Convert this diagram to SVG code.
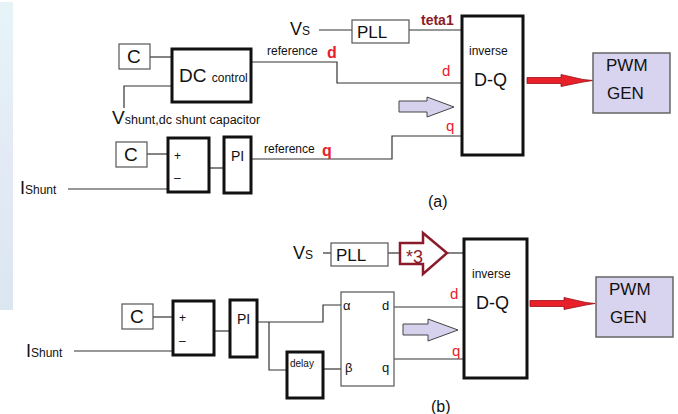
<svg xmlns="http://www.w3.org/2000/svg" width="678" height="414" viewBox="0 0 678 414">
<defs>
<linearGradient id="bg" x1="0" y1="0" x2="0" y2="1">
<stop offset="0" stop-color="#e6f4f8"/>
<stop offset="0.5" stop-color="#e3eaf5"/>
<stop offset="1" stop-color="#dbe6f1"/>
</linearGradient>
</defs>
<style>
text{font-family:"Liberation Sans",Arial,sans-serif;fill:#111}
.thin{fill:#fff;stroke:#555;stroke-width:1.2}
.thick{fill:#fff;stroke:#111;stroke-width:3}
.w{fill:none;stroke:#333;stroke-width:1.2}
.red{fill:#e8202a}
.dred{fill:#8b1a2a}
.pwm{fill:#d8d3ee;stroke:#666;stroke-width:1.5}
.lav{fill:#d6d2ee;stroke:#444;stroke-width:1}
.rarr{fill:#e8202a;stroke:#9a1018;stroke-width:0.8}
</style>
<rect x="0" y="0" width="678" height="414" fill="#fff"/>
<rect x="0" y="2" width="13" height="308" fill="url(#bg)"/>

<g id="connectors">
<polyline class="w" points="150,57 172,57"/>
<polyline class="w" points="172,86 124,86 124,108"/>
<polyline class="w" points="251,62 337,62 337,83 462,83"/>
<polyline class="w" points="319,30 352,30"/>
<polyline class="w" points="409,30 462,30"/>
<polyline class="w" points="147,154 168,154"/>
<polyline class="w" points="68,189 168,189"/>
<polyline class="w" points="209,168 224,168"/>
<polyline class="w" points="251,159 392,159 392,136 462,136"/>
<path class="rarr" d="M527,77.5 L561,77.5 L561,74.5 L583,79.5 L593,80.5 L583,82 L561,86.5 L561,83.5 L527,83.5 Z"/>
<polyline class="w" points="323,253 331,253"/>
<polyline class="w" points="388,253 400,253"/>
<polyline class="w" points="448,253 464,253"/>
<polyline class="w" points="153,317 173,317"/>
<polyline class="w" points="74,351 173,351"/>
<polyline class="w" points="214,331 230,331"/>
<polyline class="w" points="257,322 323,322 323,305 341,305"/>
<polyline class="w" points="269,322 269,370 287,370"/>
<polyline class="w" points="323,369 341,369"/>
<polyline class="w" points="394,307 464,307"/>
<polyline class="w" points="394,359 464,359"/>
<path class="rarr" d="M530,300.5 L564,300.5 L564,297.5 L586,302.5 L595,303.5 L586,305 L564,309.5 L564,306.5 L530,306.5 Z"/>
</g>

<!-- (a) -->
<g id="c1"><rect class="thin" x="119" y="44" width="31" height="25"/><text x="127" y="63" font-size="19">C</text></g>
<g id="dc"><rect class="thick" x="172" y="49" width="79" height="53"/><text x="179" y="82" font-size="19">DC <tspan font-size="12">control</tspan></text></g>
<g id="vshunt"><text x="112" y="124" font-size="19">V<tspan font-size="12.5">shunt,dc</tspan><tspan font-size="12.5"> shunt capacitor</tspan></text></g>
<g id="vs1"><text x="290" y="35" font-size="18">V<tspan font-size="12">S</tspan></text></g>
<g id="pll1"><rect class="thin" x="352" y="20" width="57" height="23"/><text x="357" y="38" font-size="17">PLL</text></g>
<text x="421" y="25" font-size="14" font-weight="bold" class="dred">teta1</text>
<text x="267" y="55" font-size="12">reference</text>
<text x="327" y="58" font-size="16" font-weight="bold" class="red">d</text>
<text x="442" y="76" font-size="15" class="red">d</text>
<text x="446" y="131" font-size="15" class="red">q</text>
<text x="264" y="153" font-size="12">reference</text>
<text x="322" y="156" font-size="16" font-weight="bold" class="red">q</text>
<g id="dq1"><rect class="thick" x="462" y="16" width="61" height="139"/><text x="469" y="55" font-size="12">inverse</text><text x="474" y="86" font-size="18">D-Q</text></g>
<path class="lav" d="M399,101 L427,101 L427,97 L454,107 L427,117 L427,112 L399,112 Z"/>
<g id="pwm1"><rect class="pwm" x="593" y="53" width="77" height="60"/><text x="606" y="71" font-size="17">PWM</text><text x="607" y="99" font-size="17">GEN</text></g>
<g id="c2"><rect class="thin" x="116" y="142" width="31" height="25"/><text x="124" y="161" font-size="19">C</text></g>
<g id="sum1"><rect class="thick" x="168" y="138" width="41" height="54"/><text x="174" y="160" font-size="12">+</text><text x="174" y="182" font-size="12">–</text></g>
<g id="ish1"><text x="20" y="194" font-size="18">I<tspan font-size="12">Shunt</tspan></text></g>
<g id="pi1"><rect class="thick" x="224" y="137" width="27" height="56"/><text x="231" y="161" font-size="14">PI</text></g>
<text x="428" y="207" font-size="16">(a)</text>

<!-- (b) -->
<g id="vs2"><text x="293" y="259" font-size="18">V<tspan font-size="12">S</tspan></text></g>
<g id="pll2"><rect class="thin" x="331" y="243" width="57" height="23"/><text x="336" y="261" font-size="17">PLL</text></g>
<g id="mul3"><path d="M400,243 L423,243 L423,233 L447,253 L423,274 L423,264 L400,264 Z" fill="#fff" stroke="#8b1a2a" stroke-width="2.5" stroke-linejoin="miter"/><text x="406" y="263" font-size="18" class="dred">*3</text></g>
<g id="dq2"><rect class="thick" x="464" y="239" width="63" height="139"/><text x="472" y="278" font-size="12">inverse</text><text x="476" y="309" font-size="18">D-Q</text></g>
<text x="450" y="299" font-size="15" class="red">d</text>
<text x="452" y="356" font-size="15" class="red">q</text>
<path class="lav" d="M403,324 L428,324 L428,319 L458,330 L428,341 L428,335 L403,335 Z"/>
<g id="pwm2"><rect class="pwm" x="596" y="277" width="77" height="60"/><text x="609" y="295" font-size="17">PWM</text><text x="610" y="323" font-size="17">GEN</text></g>
<g id="abdq"><rect class="thin" x="341" y="292" width="53" height="94"/><text x="343" y="310" font-size="13">α</text><text x="382" y="310" font-size="13">d</text><text x="345" y="372" font-size="13">β</text><text x="382" y="372" font-size="13">q</text></g>
<g id="c3"><rect class="thin" x="122" y="304" width="31" height="25"/><text x="130" y="323" font-size="19">C</text></g>
<g id="sum2"><rect class="thick" x="173" y="301" width="41" height="54"/><text x="179" y="322" font-size="12">+</text><text x="179" y="345" font-size="12">–</text></g>
<g id="ish2"><text x="26" y="357" font-size="18">I<tspan font-size="12">Shunt</tspan></text></g>
<g id="pi2"><rect class="thick" x="230" y="300" width="27" height="57"/><text x="237" y="324" font-size="14">PI</text></g>
<g id="delay"><rect class="thick" x="287" y="352" width="36" height="46"/><text x="290" y="367" font-size="10">delay</text></g>
<text x="431" y="412" font-size="16">(b)</text>
</svg>
